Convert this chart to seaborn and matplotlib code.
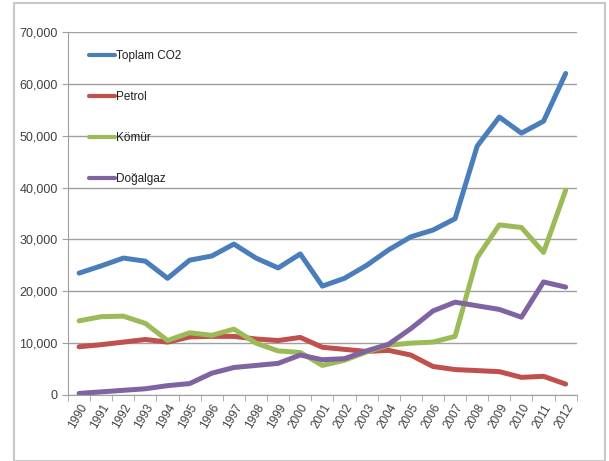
import matplotlib
matplotlib.use("Agg")
import matplotlib.pyplot as plt
import matplotlib.ticker as mticker
from matplotlib.patches import Rectangle
import seaborn as sns
import pandas as pd
import numpy as np

years = list(range(1990, 2013))
toplam = [23500, 24900, 26400, 25800, 22500, 26000, 26800, 29100, 26400, 24500, 27200,
          21000, 22500, 25000, 28000, 30500, 31800, 34000, 48000, 53600, 50500, 52800, 62000]
petrol = [9300, 9700, 10200, 10700, 10200, 11200, 11300, 11300, 10800, 10500, 11100,
          9200, 8800, 8400, 8600, 7700, 5500, 4900, 4700, 4500, 3400, 3600, 2100]
komur = [14300, 15100, 15200, 13800, 10500, 12000, 11500, 12700, 10000, 8500, 8200,
         5700, 6700, 8300, 9600, 10000, 10200, 11300, 26500, 32800, 32300, 27500, 39500]
dogalgaz = [300, 600, 900, 1200, 1800, 2200, 4200, 5300, 5700, 6100, 7700,
            6800, 7000, 8500, 9800, 12800, 16200, 17900, 17200, 16500, 15000, 21800, 20800]
series_names = ["Toplam CO2", "Petrol", "Kömür", "Doğalgaz"]
colors = ["#4a7ebb", "#c0504d", "#9bbb59", "#8064a2"]

df = pd.concat([
    pd.DataFrame({"Yıl": years, "Değer": vals, "Seri": name})
    for name, vals in zip(series_names, [toplam, petrol, komur, dogalgaz])
])

sns.set_style("white")
plt.rcParams['font.family'] = ['Liberation Sans Narrow', 'Liberation Sans', 'DejaVu Sans']

fig = plt.figure(figsize=(6.09, 4.61), dpi=100)
ax = fig.add_axes([0.1117, 0.1432, 0.8353, 0.7874])

sns.lineplot(data=df, x="Yıl", y="Değer", hue="Seri", hue_order=series_names,
             palette=colors, linewidth=3.6, ax=ax, legend=True)

ax.set_xlim(1989.5, 2012.5)
ax.set_ylim(0, 70000)
ax.yaxis.set_major_locator(mticker.MultipleLocator(10000))
ax.yaxis.set_major_formatter(mticker.FuncFormatter(lambda v, p: f"{int(v):,}"))
ax.grid(axis="y", color="#a0a0a0", linewidth=1.0)
ax.set_axisbelow(True)

ax.set_xticks(years)
ax.set_xticklabels([str(y) for y in years], rotation=60, ha="right", rotation_mode="anchor",
                   fontsize=8.5, color="#404040")
ax.xaxis.set_minor_locator(mticker.FixedLocator(np.arange(1989.5, 2013, 1)))
ax.tick_params(axis="x", which="major", length=0, pad=5)
ax.tick_params(axis="x", which="minor", length=4, color="#a0a0a0", bottom=True)
ax.tick_params(axis="y", length=4, color="#a0a0a0", labelsize=9, labelcolor="#404040", left=True)

for s in ["top", "right"]:
    ax.spines[s].set_visible(False)
ax.spines["left"].set_color("#a0a0a0")
ax.spines["bottom"].set_color("#a0a0a0")

ax.set_xlabel("")
ax.set_ylabel("")

leg = ax.legend(loc="upper left", bbox_to_anchor=(0.02, 0.98), frameon=False, fontsize=8.5,
                labelspacing=2.45, handlelength=2.2, handletextpad=0.1)
for line in leg.get_lines():
    line.set_linewidth(3)
for t in leg.get_texts():
    t.set_color("#202020")

fig.patches.append(Rectangle((14/609, 0), (605-14)/609, 1 - 3/461, transform=fig.transFigure,
                             fill=False, edgecolor="#c8c8c8", linewidth=1.5))

fig.savefig("out.png", dpi=100)
